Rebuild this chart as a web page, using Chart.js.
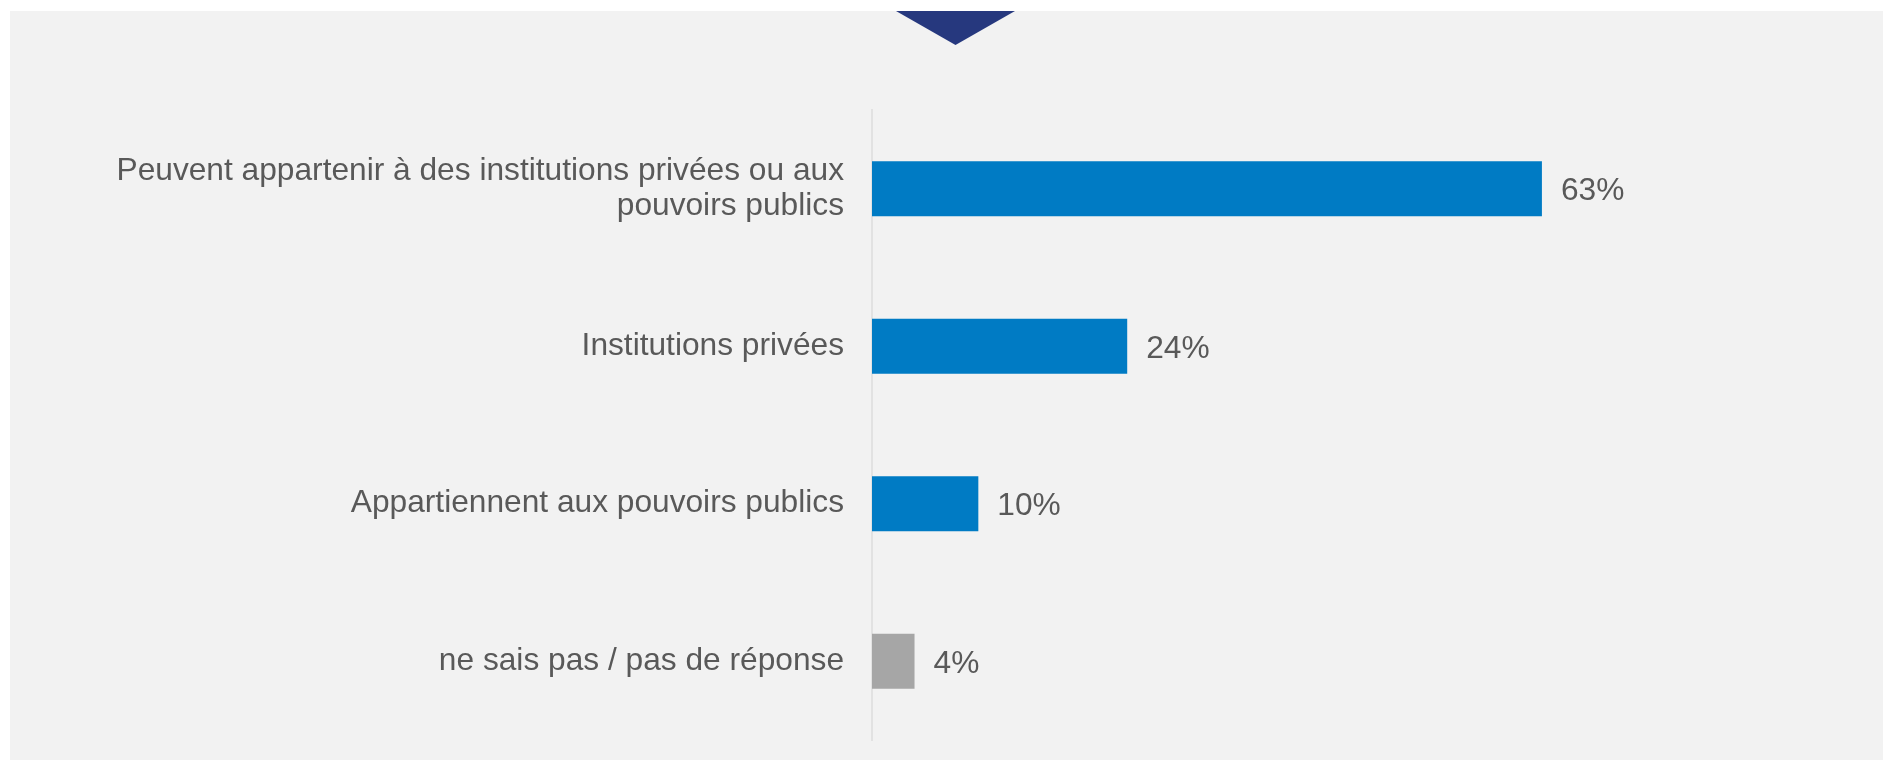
<!DOCTYPE html>
<html lang="fr">
<head>
<meta charset="utf-8">
<title>Propriété</title>
<script src="https://cdn.jsdelivr.net/npm/chart.js@4.4.1/dist/chart.umd.min.js"></script>
<style>
  html, body { margin: 0; padding: 0; background: #ffffff; }
  body { width: 1883px; height: 760px; position: relative; overflow: hidden; }
  #panel {
    position: absolute; left: 10px; top: 11px; right: 0; bottom: 0;
    background: #f2f2f2;
  }
  #marker {
    position: absolute; left: 896px; top: 11px; width: 119px; height: 34px;
    background: #26387e;
    clip-path: polygon(0 0, 100% 0, 50% 100%);
  }
  #wrap { position: absolute; left: 0; top: 0; width: 1883px; height: 760px; }
</style>
</head>
<body>
<div id="panel"></div>
<div id="marker"></div>
<div id="wrap"><canvas id="chartBar"></canvas></div>

<script>
// ─────────────────────────────────────────────
//  Data
// ─────────────────────────────────────────────
const categories = [
  ["Peuvent appartenir à des institutions privées ou aux", "pouvoirs publics"],
  "Institutions privées",
  "Appartiennent aux pouvoirs publics",
  "ne sais pas / pas de réponse",
];
const values = [63, 24, 10, 4];
const valueLabels = ["63%", "24%", "10%", "4%"];

// ─────────────────────────────────────────────
//  Style constants
// ─────────────────────────────────────────────
const C_BLUE = "#007bc4";
const C_GREY = "#a6a6a6";
const C_TEXT = "#595959";
const FONT = { family: "Arial, 'Liberation Sans', sans-serif", size: 31.7 };

const barColors = values.map((v, i) => (i === values.length - 1 ? C_GREY : C_BLUE));

// ── value labels at the end of each bar ──
const valueLabelPlugin = {
  id: "valueLabels",
  afterDatasetsDraw(chart) {
    const ctx = chart.ctx;
    const meta = chart.getDatasetMeta(0);
    ctx.save();
    ctx.font = `${FONT.size}px ${FONT.family}`;
    ctx.fillStyle = C_TEXT;
    ctx.textAlign = "left";
    ctx.textBaseline = "middle";
    meta.data.forEach((bar, i) => {
      ctx.fillText(valueLabels[i], bar.x + 19, bar.y + 3);
    });
    ctx.restore();
  },
};

Chart.defaults.font.family = FONT.family;
Chart.defaults.color = C_TEXT;

new Chart(document.getElementById("chartBar"), {
  type: "bar",
  data: {
    labels: categories,
    datasets: [
      {
        data: values,
        backgroundColor: barColors,
        borderWidth: 0,
        categoryPercentage: 1,
        barPercentage: 0.35,
      },
    ],
  },
  options: {
    indexAxis: "y",
    responsive: true,
    maintainAspectRatio: false,
    animation: false,
    layout: { padding: { top: 110, bottom: 20, left: 0, right: 4 } },
    plugins: {
      legend: { display: false },
      tooltip: { enabled: false },
    },
    scales: {
      x: { display: false, min: 0, max: 94.7 },
      y: {
        // fixed label column; no extra label padding top/bottom
        afterFit: (s) => {
          s.width = 872;
          s.paddingTop = 0;
          s.paddingBottom = 0;
        },
        grid: { display: true, color: "rgba(0,0,0,0)", drawTicks: false },
        border: { display: true, color: "#e2e2e2", width: 2 },
        ticks: {
          padding: 28,
          color: C_TEXT,
          font: { size: FONT.size, lineHeight: 1.1 },
        },
      },
    },
  },
  plugins: [valueLabelPlugin],
});
</script>
</body>
</html>
